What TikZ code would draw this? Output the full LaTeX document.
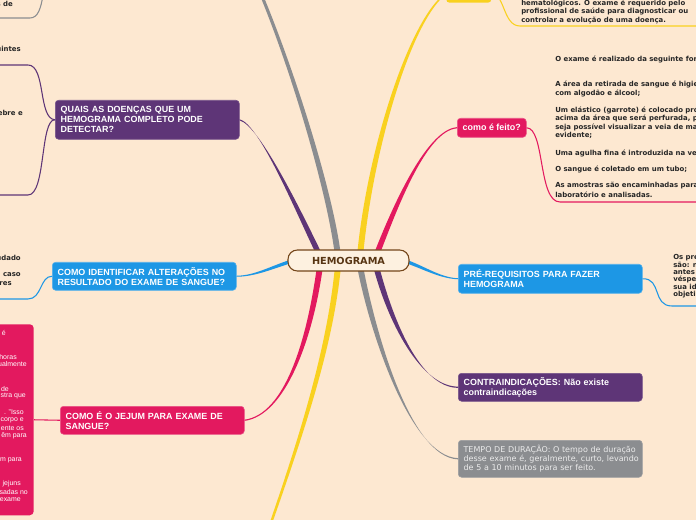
\documentclass[tikz,border=0pt]{standalone}
\usepackage{fontspec}
\setmainfont{Liberation Sans}
\newfontfamily\dvs{DejaVu Sans}
\usetikzlibrary{calc}
\definecolor{bg}{HTML}{FDE8D1}
\definecolor{cpur}{HTML}{5E3577}
\definecolor{cpink}{HTML}{E3195F}
\definecolor{cblue}{HTML}{1D97E5}
\definecolor{cgray}{HTML}{8B8D90}
\definecolor{cyel}{HTML}{F9D11F}
\definecolor{cbrown}{HTML}{74461A}
\definecolor{ccream}{HTML}{FDF1E0}
\definecolor{ctxt}{HTML}{262626}
\newcommand\taper[7]{\fill[#1] ($#2+(#6)$) .. controls ($#3+(#6)$) and ($#4+(#7)$) .. ($#5+(#7)$) -- ($#5-(#7)$) .. controls ($#4-(#7)$) and ($#3-(#6)$) .. ($#2-(#6)$) -- cycle;}
\tikzset{
  topic/.style={rounded corners=2.5pt, anchor=north west, inner xsep=4pt, inner ysep=0pt,
    text width=130pt, align=left, text=white, font=\fontsize{6.7}{7.6}\selectfont\bfseries},
  ctext/.style={anchor=west, inner sep=0pt, text=ctxt, font=\dvs\bfseries\fontsize{5.2}{6.4}\selectfont},
  ltext/.style={anchor=east, inner sep=0pt, text=ctxt, font=\dvs\bfseries\fontsize{5.2}{6.4}\selectfont},
  wtext/.style={anchor=east, inner sep=0pt, text=white, font=\fontsize{5.2}{6.2}\selectfont},
  link/.style={line width=0.8pt}
}
\begin{document}
\begin{tikzpicture}[x=0.75pt,y=-0.75pt]
\useasboundingbox (0,0) rectangle (696,520);
\clip (0,0) rectangle (696,520);
\fill[bg] (0,0) rectangle (696,520);

% topic boxes
\node[topic, fill=cpur, draw=cpur!85!white, minimum height=29.25pt] (q1) at (55,100)
  {\mbox{QUAIS AS DOENÇAS QUE UM}\\\mbox{HEMOGRAMA COMPLETO PODE}\\DETECTAR?};
\node[topic, fill=cblue, draw=cblue!75!white, minimum height=21pt] (q2) at (52,262)
  {\mbox{COMO IDENTIFICAR ALTERAÇÕES NO}\\\mbox{RESULTADO DO EXAME DE SANGUE?}};
\node[topic, fill=cpink, draw=cpink!75!white, minimum height=21pt] (q3) at (60,406)
  {\mbox{COMO É O JEJUM PARA EXAME DE}\\SANGUE?};
\node[topic, fill=cpink, draw=cpink!75!white, text width=, minimum width=51.75pt, minimum height=14.25pt, align=center] (cf) at (457,118)
  {como é feito?};
\node[topic, fill=cblue, draw=cblue!75!white, minimum height=21.75pt] (pr) at (458,264)
  {\mbox{PRÉ-REQUISITOS PARA FAZER}\\HEMOGRAMA};
\node[topic, fill=cpur, draw=cpur!85!white, minimum height=21pt] (ci) at (458,373)
  {\mbox{CONTRAINDICAÇÕES: Não existe}\\contraindicações};
\node[topic, fill=cgray, draw=cgray!85!white, minimum height=27.75pt, text=white!92!black,
  font=\dvs\fontsize{6}{6.8}\selectfont] (tp) at (458,440)
  {\mbox{TEMPO DE DURAÇÃO: O tempo de duração}\\\mbox{desse exame é, geralmente, curto, levando}\\\mbox{de 5 a 10 minutos para ser feito.}};
\node[fill=cyel, rounded corners=2.5pt, anchor=south west, minimum width=33.75pt, minimum height=14pt, inner sep=0pt] (ytop) at (446,3) {};
\node[fill=cpink, rounded corners=3pt, anchor=north east, minimum width=100pt, minimum height=143.25pt, inner sep=0pt] (jb) at (34,324) {};

% main tapered connectors
\coordinate (gA) at (338,256);
\coordinate (gEnd) at (255,-20);
\coordinate (yA) at (360,256);
\coordinate (pA) at (376,256);
\coordinate (uA) at (320,256);
\coordinate (bA) at (292,261);
\coordinate (bB) at (405,261);
\coordinate (kA) at (320,266);
\coordinate (vA) at (376,266);
\coordinate (hA) at (360,266);
\coordinate (zA) at (338,266);
\coordinate (zEnd) at (265,540);
\taper{cgray}{(gA)}{(330,190)}{(290,60)}{(gEnd)}{3,0}{1.6,0}
\taper{cyel}{(yA)}{(370,150)}{(410,20)}{(ytop.west)}{3,0}{1,0}
\taper{cpink}{(pA)}{(392,215)}{(425,130)}{(cf.west)}{3,0}{0,0.6}
\taper{cpur}{(uA)}{(300,215)}{(260,125)}{(q1.east)}{3,0}{0,0.6}
\taper{cblue}{(bA)}{(270,268)}{(255,276)}{(q2.east)}{0,1.8}{0,0.5}
\taper{cblue}{(bB)}{(425,268)}{(440,278)}{(pr.west)}{0,1.8}{0,0.5}
\taper{cpink}{(kA)}{(310,340)}{(285,415)}{(q3.east)}{3,0}{0,0.6}
\taper{cpur}{(vA)}{(390,320)}{(420,387)}{(ci.west)}{3,0}{0,0.6}
\taper{cgray}{(hA)}{(372,330)}{(410,457)}{(tp.west)}{3,0}{0,0.6}
\taper{cyel}{(zA)}{(330,350)}{(300,440)}{(zEnd)}{3,0}{1.3,0}

% child connectors
\coordinate (c1a) at (0,65);
\coordinate (c1b) at (0,195);
\coordinate (gtl) at (43,-5);
\coordinate (gl) at (0,18);
\coordinate (c2) at (0,299);
\coordinate (c4) at (696,26);
\coordinate (c5) at (696,202);
\coordinate (c6) at (696,306);
\draw[link, cpur] (q1.west) .. controls (38,119) and (46,65) .. (28,65) -- (c1a);
\draw[link, cpur] (q1.west) .. controls (40,119) and (46,195) .. (28,195) -- (c1b);
\draw[link, cgray] (gtl) .. controls (41,8) and (38,18) .. (30,18) -- (gl);
\draw[link, cblue] (q2.west) .. controls (40,276) and (42,299) .. (28,299) -- (c2);
\draw[link, cpink] (q3.west) -- (jb.east);
\draw[link, cyel] (ytop.east) .. controls (505,-6) and (503,26) .. (520,26) -- (c4);
\draw[link, cpink] (cf.east) .. controls (545,128) and (538,202) .. (560,202) -- (c5);
\draw[link, cblue] (pr.east) .. controls (662,278) and (652,306) .. (672,306) -- (c6);

% central node
\node[draw=cbrown, fill=ccream, line width=0.8pt, rounded corners=7pt, minimum width=90.75pt,
  minimum height=15.75pt, inner sep=0pt, text=cbrown!75!black,
  font=\dvs\bfseries\fontsize{7.3}{8}\selectfont] (hemo) at (348.5,260.5) {HEMOGRAMA};

% right texts (yellow child)
\node[ctext] (y1) at (521,3) {hematológicos. O exame é requerido pelo};
\node[ctext] (y2) at (521,11.5) {profissional de saúde para diagnosticar ou};
\node[ctext] (y3) at (521,20) {controlar a evolução de uma doença.};

% right texts (como é feito)
\node[ctext] (f1) at (555,59) {O exame é realizado da seguinte forma:};
\node[ctext] (f2) at (555,84) {A área da retirada de sangue é higienizada};
\node[ctext] (f3) at (555,93) {com algodão e álcool;};
\node[ctext] (f4) at (555,110) {Um elástico (garrote) é colocado próximo e};
\node[ctext] (f5) at (555,118.5) {acima da área que será perfurada, para que};
\node[ctext] (f6) at (555,127) {seja possível visualizar a veia de maneira mais};
\node[ctext] (f7) at (555,135.5) {evidente;};
\node[ctext] (f8) at (555,153) {Uma agulha fina é introduzida na veia;};
\node[ctext] (f9) at (555,169.5) {O sangue é coletado em um tubo;};
\node[ctext] (f10) at (555,186) {As amostras são encaminhadas para o};
\node[ctext] (f11) at (555,194.5) {laboratório e analisadas.};

% right texts (pre-requisitos)
\node[ctext] (r1) at (673,257) {Os pré-requisitos};
\node[ctext] (r2) at (673,264.5) {são: não};
\node[ctext] (r3) at (673,272) {antes do};
\node[ctext] (r4) at (673,279.5) {véspera};
\node[ctext] (r5) at (673,287) {sua identidade};
\node[ctext] (r6) at (673,294.5) {objetivo};

% left texts
\node[ltext] (l1) at (13,4) {s de};
\node[ltext] (l2) at (21,50) {seguintes};
\node[ltext] (l3) at (23,113) {febre e};
\node[ltext] (l4) at (21,258) {udado};
\node[ltext] (l5) at (21,275) {em caso};
\node[ltext] (l6) at (12,284) {res};

% texts in the large pink box
\node[wtext] (w1) at (6,333) {é};
\node[wtext] (w2) at (17,357) {horas};
\node[wtext] (w3) at (27,364) {ualmente};
\node[wtext] (w4) at (9,389) {de};
\node[wtext] (w5) at (26,396) {stra que};
\node[wtext] (w6) at (24,412) {. "Isso};
\node[wtext] (w7) at (24,420) {corpo e};
\node[wtext] (w8) at (24,428) {ente os};
\node[wtext] (w9) at (27,436) {êm para};
\node[wtext] (w10) at (22,460) {m para};
\node[wtext] (w11) at (21,484) {jejuns};
\node[wtext] (w12) at (28,492) {sadas no};
\node[wtext] (w13) at (21,500) {exame};
\end{tikzpicture}
\end{document}
